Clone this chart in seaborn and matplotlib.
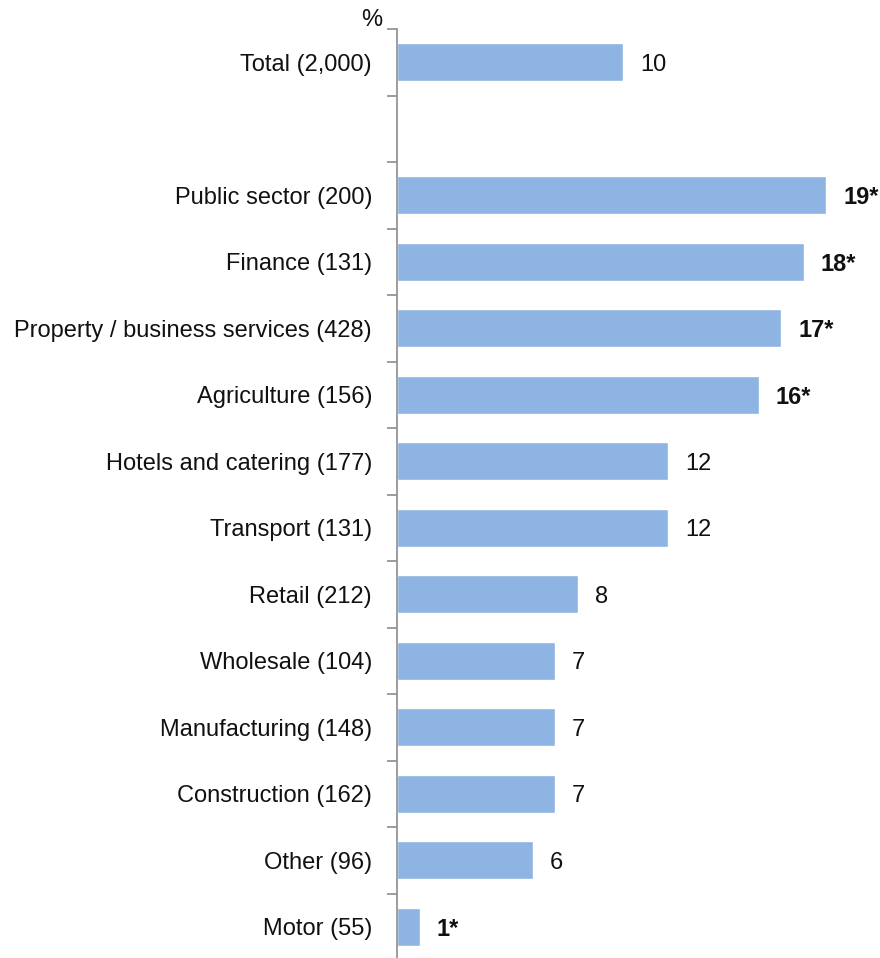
import matplotlib
matplotlib.use("Agg")
import matplotlib.pyplot as plt
from matplotlib.ticker import FixedLocator
import seaborn as sns
import pandas as pd

sectors = [
    "Total (2,000)",
    "Public sector (200)",
    "Finance (131)",
    "Property / business services (428)",
    "Agriculture (156)",
    "Hotels and catering (177)",
    "Transport (131)",
    "Retail (212)",
    "Wholesale (104)",
    "Manufacturing (148)",
    "Construction (162)",
    "Other (96)",
    "Motor (55)",
]
values = [10, 19, 18, 17, 16, 12, 12, 8, 7, 7, 7, 6, 1]
significant = [False, True, True, True, True, False, False, False, False, False, False, False, True]

# Total first, then an empty row as a separator
order = [sectors[0], " "] + sectors[1:]

df = pd.DataFrame({"sector": sectors, "value": values, "sig": significant})

sns.set_style("white")
plt.rcParams["font.family"] = ["Liberation Sans", "DejaVu Sans"]

FS = 17

fig = plt.figure(figsize=(8.8, 9.58), dpi=100)
ax = fig.add_axes([397 / 880, -2 / 958, 483 / 880, 931 / 958])

sns.barplot(data=df, x="value", y="sector", order=order, color="#8EB4E3",
            width=0.57, saturation=1, ax=ax, errorbar=None)

ax.set_xlim(0, 483 / 22.6)
ax.set_ylim(len(order) - 0.5, -0.5)
ax.set_xlabel("")
ax.set_ylabel("")
ax.set_xticks([])

for s in ["top", "right", "bottom"]:
    ax.spines[s].set_visible(False)
ax.spines["left"].set_color("#8c8c8c")
ax.spines["left"].set_linewidth(1.2)

ax.tick_params(axis="y", which="major", length=0, pad=18, labelsize=FS, labelcolor="#111111")
ax.yaxis.set_minor_locator(FixedLocator([i - 0.5 for i in range(len(order) + 1)]))
ax.tick_params(axis="y", which="minor", left=True, length=7, width=1.2, color="#8c8c8c")

for name, v, sig in zip(sectors, values, significant):
    y = order.index(name)
    label = f"{v}*" if sig else f"{v}"
    ax.text(v + 0.75, y, label, va="center_baseline", ha="left", fontsize=FS,
            fontweight="bold" if sig else "normal", color="#111111")

fig.text(372 / 880, 1 - 20 / 958, "%", ha="center", va="center", fontsize=FS, color="#111111")

fig.savefig("out.png", dpi=100)
